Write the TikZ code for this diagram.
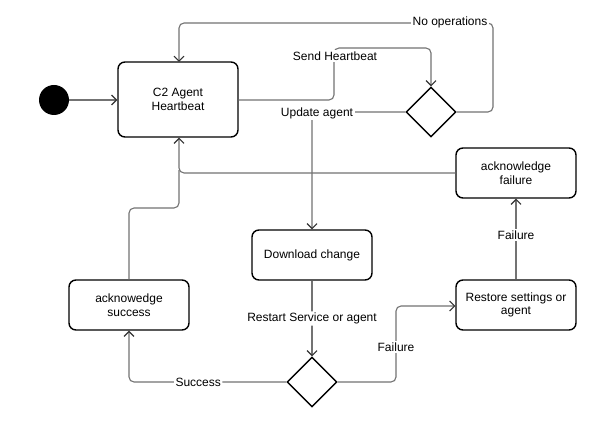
\documentclass[tikz,border=0pt]{standalone}
\usepackage{fontspec}
\setmainfont{Liberation Sans}
\usetikzlibrary{arrows.meta,shapes.geometric}
\begin{document}
\begin{tikzpicture}[x=1pt,y=-1pt,
  font=\fontsize{12}{13.5}\selectfont,
  state/.style={draw=black,line width=1.4pt,rounded corners=7pt,fill=white,align=center,inner sep=0pt},
  choice/.style={draw=black,line width=1.4pt,diamond,minimum width=50pt,minimum height=50pt,inner sep=0pt,fill=white},
  conn/.style={draw=black!55,line width=1.1pt,rounded corners=5pt,-{Straight Barb[length=5pt,width=10pt,line width=1.1pt,color=black!80]}},
  plain/.style={draw=black!55,line width=1.1pt,rounded corners=5pt},
  lbl/.style={fill=white,inner sep=1.5pt}]
\useasboundingbox (0,0) rectangle (601,427);
\fill[white] (0,0) rectangle (601,427);
\node[circle,fill=black,minimum size=30pt,inner sep=0pt] (init) at (54,100) {};
\node[state,minimum width=120pt,minimum height=75pt] (hb) at (178,99.5) {C2 Agent\\Heartbeat};
\node[choice] (d1) at (431,112) {};
\node[state,minimum width=120pt,minimum height=50pt] (af) at (516,173) {acknowledge\\failure};
\node[state,minimum width=120pt,minimum height=50pt] (dl) at (312,255) {Download change};
\node[state,minimum width=120pt,minimum height=50pt] (as) at (129,305) {acknowedge\\success};
\node[state,minimum width=120pt,minimum height=50pt] (rs) at (516,305) {Restore settings or\\agent};
\node[choice] (d2) at (312,382) {};
\coordinate (m) at (179,208);
% init -> heartbeat
\draw[conn] (init) -- (hb.west |- init);
% send heartbeat
\draw[conn] (hb.east |- 0,100) -| (334,48) -| (d1.north);
\node[lbl] (sh) at (335,56) {Send Heartbeat};
% no operations
\draw[conn] (d1.east) -| (493,23) -| (179,62);
\node[lbl] (no) at (450,22) {No operations};
% update agent
\draw[conn] (d1.west) -| (dl.north);
\node[lbl] (ua) at (317,113) {Update agent};
% ack failure -> heartbeat
\draw[conn] (af.west) -| (hb.south -| 179,0);
% ack success -> heartbeat
\draw[plain] (as.north) |- (m) -- (179,170);
% download -> d2
\draw[conn] (dl.south) -- node[lbl,pos=0.5]{Restart Service or agent} (d2.north);
% d2 success
\draw[conn] (d2.west) -| node[lbl,pos=0.28]{Success} (as.south);
% d2 failure
\draw[conn] (d2.east) -| (396,306) -- (rs.west |- 0,306);
\node[lbl] (fl) at (396,347) {Failure};
% restore -> ack failure
\draw[conn] (rs.north) -- node[lbl,pos=0.55]{Failure} (af.south);
\end{tikzpicture}
\end{document}
